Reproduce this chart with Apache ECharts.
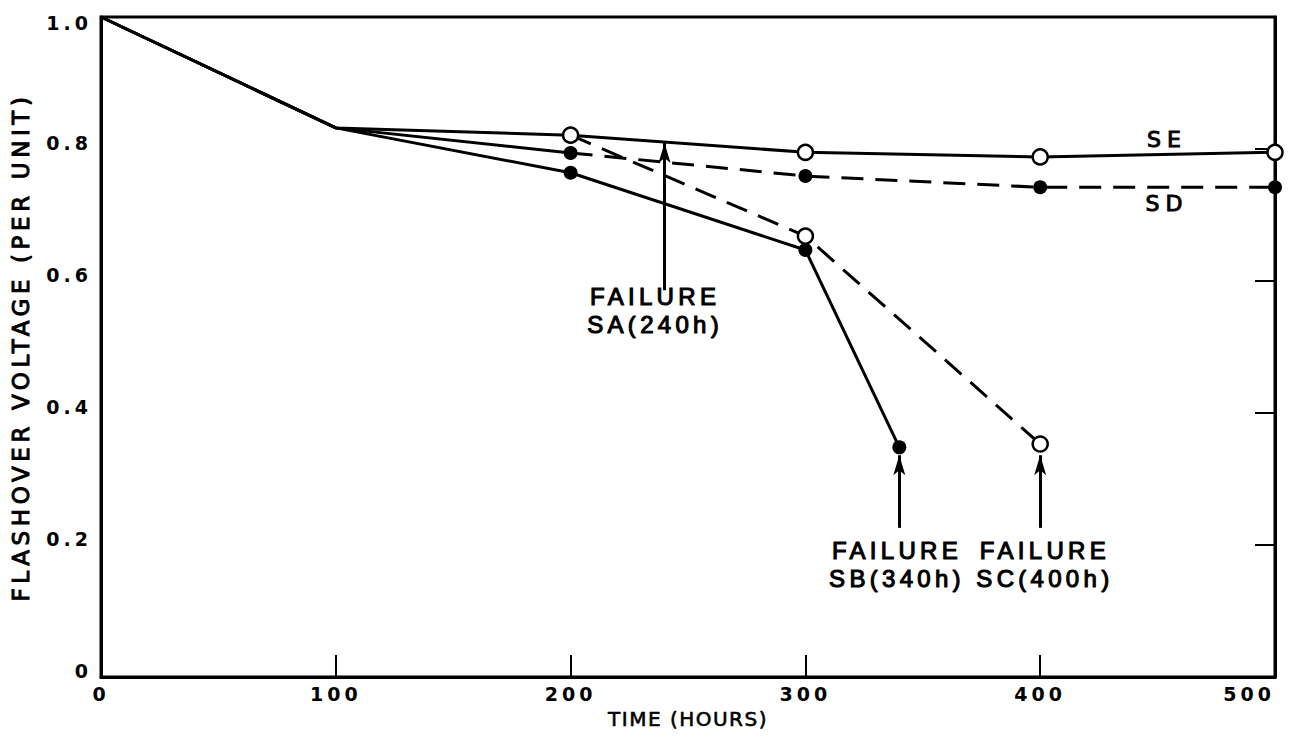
<!DOCTYPE html>
<html><head><meta charset="utf-8">
<script src="https://cdn.jsdelivr.net/npm/echarts@6/dist/echarts.min.js"></script>
<style>
html,body{margin:0;padding:0;background:#fff}
#c{width:1291px;height:750px}
#c svg text{letter-spacing:4px}
#c svg text[style*="20px"]{letter-spacing:1.5px}
#c svg text[style*="22px"]{letter-spacing:6px}
#c svg text[style*="23px"]{letter-spacing:4.6px}
#c svg text[style*="24px"]{letter-spacing:4.3px}
</style>
</head><body><div id="c"></div><script>
// ---- data ----
const xTicks = [0, 100, 200, 300, 400, 500];
const yTicks = [0, 0.2, 0.4, 0.6, 0.8, 1.0];

const seHours = [0, 100, 200, 300, 400, 500];
const seVals  = [1.0, 0.832, 0.821, 0.795, 0.788, 0.795];

const sdSolidHours = [0, 100, 200];
const sdSolidVals  = [1.0, 0.832, 0.794];
const sdDashHours  = [200, 300, 400, 500];
const sdDashVals   = [0.794, 0.759, 0.742, 0.742];

const sbHours = [0, 100, 200, 300, 340];
const sbVals  = [1.0, 0.832, 0.764, 0.647, 0.348];

const scDashHours = [200, 300, 400];
const scDashVals  = [0.821, 0.668, 0.353];

const failureText  = ['FAILURE\nSA(240h)', 'FAILURE\nSB(340h)', 'FAILURE\nSC(400h)'];
const failureHours = [240, 340, 400];
const arrowFrom    = [0.586, 0.226, 0.226];
const arrowTo      = [0.809, 0.336, 0.336];
const labelHours   = [236, 339, 402];
const labelVals    = [0.555, 0.171, 0.171];

const curveNames = ['SE', 'SD'];
const curveHours = [454, 454];
const curveVals  = [0.814, 0.718];

// ---- build ----
const zip = (xs, ys) => xs.map((x, i) => [x, ys[i]]);
const openPts   = zip(seHours.slice(2), seVals.slice(2)).concat(zip(scDashHours.slice(1), scDashVals.slice(1)));
const filledPts = zip(sdDashHours, sdDashVals).concat(zip(sbHours.slice(2), sbVals.slice(2)));

const lineBase = {type: 'line', showSymbol: false, symbol: 'none', silent: true, z: 2};
const solid = {color: '#000', width: 3, type: 'solid'};
const dashed = {color: '#000', width: 3, type: [22, 12]};

const arrowLines = failureHours.map((h, i) => [
  {coord: [h, arrowFrom[i]], symbol: 'none'},
  {coord: [h, arrowTo[i]], symbol: 'arrow', symbolSize: [9, 20]}
]);

const txt = {color: '#000', fontFamily: 'DejaVu Sans', fontSize: 19, fontWeight: 'bold', opacity: 1};
const txtN = {color: '#000', fontFamily: 'DejaVu Sans', fontWeight: 'normal', opacity: 1, textBorderColor: '#000', textBorderWidth: 1};
const tickRich = {
  a: Object.assign({padding: [0, 0, 12, 0]}, txt),
  t: Object.assign({padding: [12, 0, 0, 0]}, txt)
};

const chart = echarts.init(document.getElementById('c'), null, {renderer: 'svg'});
chart.setOption({
  animation: false,
  backgroundColor: '#fff',
  grid: {left: 101, right: 16, top: 17, bottom: 73, show: true, borderColor: '#000', borderWidth: 3},
  xAxis: {
    type: 'value', min: xTicks[0], max: xTicks[xTicks.length - 1], interval: 100,
    axisLine: {lineStyle: {color: '#000', width: 3}},
    axisTick: {inside: true, length: 22, lineStyle: {color: '#000', width: 2}},
    axisLabel: Object.assign({margin: 7, alignMaxLabel: 'right'}, txt),
    splitLine: {show: false},
    name: 'TIME (HOURS)', nameLocation: 'middle', nameGap: 32,
    nameTextStyle: Object.assign({}, txtN, {fontSize: 20, textBorderWidth: 0.6})
  },
  yAxis: [{
    type: 'value', position: 'left', min: 0, max: 1, interval: 0.2,
    axisLine: {show: true, lineStyle: {color: '#000', width: 3}},
    axisTick: {show: false},
    axisLabel: Object.assign({margin: 9, rich: tickRich,
      formatter: v => v === 1 ? '{t|1.0}' : '{a|' + (v === 0 ? '0' : v.toFixed(1)) + '}'}, txt),
    splitLine: {show: false},
    name: 'FLASHOVER VOLTAGE (PER UNIT)', nameLocation: 'middle', nameGap: 69, nameRotate: 90,
    nameTextStyle: Object.assign({}, txtN, {fontSize: 23})
  }, {
    type: 'value', position: 'right', min: 0, max: 1, interval: 0.2,
    axisLine: {show: true, lineStyle: {color: '#000', width: 3}},
    axisTick: {show: true, inside: true, length: 20, lineStyle: {color: '#000', width: 2}},
    axisLabel: {show: false},
    splitLine: {show: false}
  }],
  series: [
    Object.assign({}, lineBase, {name: 'SE', data: zip(seHours, seVals), lineStyle: solid}),
    Object.assign({}, lineBase, {name: 'SD solid', data: zip(sdSolidHours, sdSolidVals), lineStyle: solid}),
    Object.assign({}, lineBase, {name: 'SD', data: zip(sdDashHours, sdDashVals), lineStyle: dashed}),
    Object.assign({}, lineBase, {name: 'SB', data: zip(sbHours, sbVals), lineStyle: solid}),
    Object.assign({}, lineBase, {name: 'SC', data: zip(scDashHours, scDashVals), lineStyle: dashed,
      markLine: {silent: true, animation: false, symbol: ['none', 'arrow'],
        lineStyle: {color: '#000', width: 3, type: 'solid'}, label: {show: false}, data: arrowLines}}),
    {type: 'scatter', name: 'open', data: openPts, symbol: 'circle', symbolSize: 15, z: 5, silent: true,
      itemStyle: {color: '#fff', borderColor: '#000', borderWidth: 2.5, opacity: 1}},
    {type: 'scatter', name: 'filled', data: filledPts, symbol: 'circle', symbolSize: 14, z: 5, silent: true,
      itemStyle: {color: '#000', opacity: 1}},
    {type: 'scatter', name: 'notes', silent: true, symbolSize: 0, z: 6, itemStyle: {opacity: 1},
      data: failureText.map((t, i) => ({name: t, value: [labelHours[i], labelVals[i]]})),
      label: Object.assign({show: true, position: 'inside', formatter: '{b}', lineHeight: 28, align: 'center'}, txtN,
        {fontSize: 24, fontFamily: 'Liberation Sans', textBorderWidth: 1.1})},
    {type: 'scatter', name: 'curveLabels', silent: true, symbolSize: 0, z: 6, itemStyle: {opacity: 1},
      data: curveNames.map((t, i) => ({name: t, value: [curveHours[i], curveVals[i]]})),
      label: Object.assign({show: true, position: 'inside', formatter: '{b}'}, txtN, {fontSize: 22})}
  ]
});
</script></body></html>
